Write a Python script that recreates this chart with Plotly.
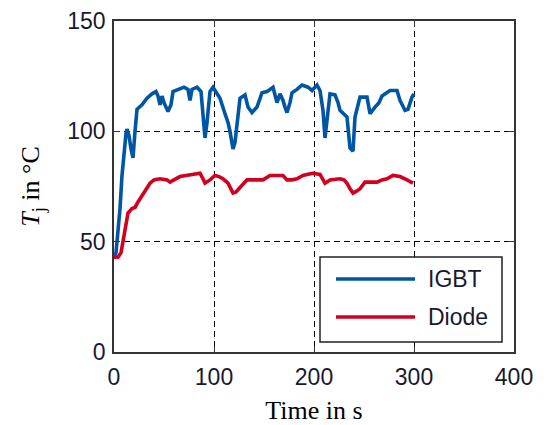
import plotly.graph_objects as go

# ---- data ----
igbt_t = [0, 2, 4, 6, 8, 10, 12, 13, 15, 17, 19, 21, 23, 28, 33, 38, 42, 44, 46, 48, 50, 54, 57, 59, 65, 70, 74, 76, 78, 83, 87, 89, 91, 93, 96, 99,
          101, 106, 111, 114, 116, 119, 121, 123, 126, 131, 134, 138, 143, 148, 153, 159, 161, 163, 166, 169, 171, 173, 176, 178, 183, 188, 194, 198,
          203, 206, 209, 211, 213, 216, 221, 224, 226, 230, 233, 236, 239, 241, 246, 253, 256, 261, 265, 268, 276, 283, 286, 291, 294, 298, 300]
igbt_T = [43, 45, 55, 65, 80, 92, 99, 101, 98, 92, 88, 100, 110, 112, 115, 117, 118, 116, 112, 116, 113, 109, 112, 118, 119, 120, 119, 114, 119, 120, 118, 108, 97, 104, 118, 120,
          118.5, 115, 108, 104, 100, 92, 95, 102, 115, 116.5, 111, 108.5, 111, 117.5, 118, 120, 117, 113, 117, 114, 111, 108.5, 113, 117.5, 119, 121, 120, 118.5,
          121, 118.5, 109.5, 97, 105, 117, 116.5, 113, 109.5, 108, 106.5, 92.5, 91, 106.5, 115.5, 115.5, 108, 111, 113, 116, 118.5, 118.5, 114, 109.5, 110, 115.5, 117]

diode_t = [0, 4, 7, 9, 11, 14, 18, 21, 24, 27, 30, 33, 36, 40, 46, 53, 56, 60, 66, 72, 80, 86, 89, 91, 96, 101, 105, 109, 114, 117, 119, 122, 124, 129, 133,
           140, 149, 156, 163, 169, 173, 178, 183, 189, 194, 199, 206, 209, 211, 216, 226, 230, 233, 236, 239, 243, 246, 251, 258, 263, 268, 273, 279, 286, 293, 299]
diode_T = [43, 43, 45, 50, 56, 63, 65, 65.5, 68, 70, 72, 74, 76.5, 78, 78.5, 78, 77, 78, 79.5, 80, 80.5, 81, 78.5, 76.5, 78, 80, 79.5, 78.5, 76.5, 73.5, 72, 72.5, 73.5, 76.5, 78,
           78, 78, 80, 80, 80, 78, 78, 78.5, 80, 80.5, 81, 80.5, 78.5, 76.5, 78, 78.5, 78, 76.5, 74, 72, 73, 74, 77, 77, 77, 78, 78.5, 80, 79.5, 78, 76.5]

series_names = ["IGBT", "Diode"]
series_colors = ["#0055A4", "#D2001E"]

x_ticks = [0, 100, 200, 300, 400]
y_ticks = [0, 50, 100, 150]

fig = go.Figure()
fig.add_trace(go.Scatter(x=igbt_t, y=igbt_T, mode="lines", name=series_names[0],
                         line=dict(color=series_colors[0], width=3.6), showlegend=False))
fig.add_trace(go.Scatter(x=diode_t, y=diode_T, mode="lines", name=series_names[1],
                         line=dict(color=series_colors[1], width=3.6), showlegend=False))

axis_common = dict(
    showline=True, linecolor="#333333", linewidth=1.5, mirror="allticks",
    ticks="inside", ticklen=6, tickcolor="#333333", tickwidth=1,
    showgrid=True, gridcolor="black", gridwidth=1.2, griddash="6px,4px",
    zeroline=False, automargin=False,
    tickfont=dict(family="Liberation Sans, Arial", size=23, color="#1a1830"),
)

fig.update_xaxes(range=[0, 400], tickvals=x_ticks, ticktext=[str(v) for v in x_ticks],
                 ticklabelstandoff=4,
                 title=dict(text="Time in s", font=dict(family="Liberation Serif, Times New Roman", size=26, color="black"), standoff=14),
                 **axis_common)
fig.update_yaxes(range=[0, 150], tickvals=y_ticks, ticktext=[str(v) for v in y_ticks],
                 ticklabelstandoff=2,
                 title=dict(text="<i>T</i><sub>j</sub> in °C", font=dict(family="Liberation Serif, Times New Roman", size=26, color="black"), standoff=20),
                 **axis_common)

# manual legend (long line samples like the reference)
shapes = [dict(type="rect", xref="paper", yref="paper", x0=0.515, x1=0.97, y0=0.030, y1=0.287,
               line=dict(color="#222222", width=1.5), fillcolor="white", layer="above")]
annotations = []
legend_y = [0.2205, 0.1057]
for name, color, ly in zip(series_names, series_colors, legend_y):
    shapes.append(dict(type="line", xref="paper", yref="paper", x0=0.555, x1=0.7525, y0=ly, y1=ly,
                       line=dict(color=color, width=3.5), layer="above"))
    annotations.append(dict(xref="paper", yref="paper", x=0.78, y=ly, text=name, showarrow=False,
                            xanchor="left", yanchor="middle",
                            font=dict(family="Liberation Sans, Arial", size=23, color="#1a1830")))

fig.update_layout(
    width=547, height=425,
    margin=dict(l=114, r=33, t=21, b=73),
    paper_bgcolor="white", plot_bgcolor="white",
    shapes=shapes, annotations=annotations,
    showlegend=False,
)

fig.write_html("out.html")
